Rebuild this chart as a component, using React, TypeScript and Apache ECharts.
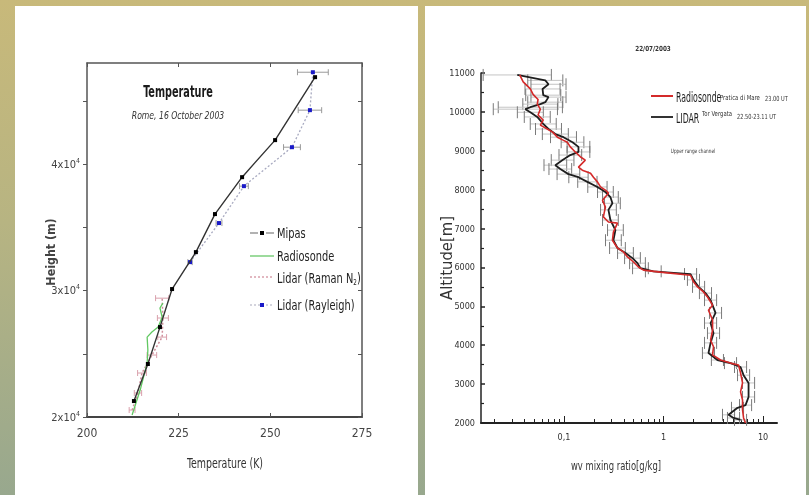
import React, { useEffect, useRef } from "react";
import * as echarts from "echarts";

// ---------- Left chart: Temperature profile, Rome 16 October 2003 ----------
const tempTicks = [200, 225, 250, 275];
const heightLabelValues = [20000, 30000, 40000];
const heightTickValues = [20000, 25000, 30000, 35000, 40000, 45000];

const mipasT = [212.8, 216.6, 219.9, 223.2, 229.7, 234.9, 242.3, 251.3, 262.2];
const mipasH = [21260, 24190, 27110, 30120, 33040, 36050, 38970, 41900, 46880];

const rayleighT = [228.1, 236.0, 242.8, 255.9, 260.8, 261.6];
const rayleighH = [32250, 35340, 38260, 41340, 44270, 47270];
const rayleighErr = [0.6, 0.8, 1.2, 2.3, 3.2, 4.2];

const ramanT = [212.3, 213.9, 215.0, 217.7, 220.5, 220.7, 220.5];
const ramanH = [20550, 21900, 23480, 24900, 26320, 27830, 29400];
const ramanErr = [0.8, 1.0, 1.2, 1.3, 1.2, 1.5, 1.8];

const sondeT = [212.3, 214.5, 216.4, 216.6, 216.4, 217.7, 219.4, 220.5, 219.9, 220.7];
const sondeH = [20160, 22130, 24270, 25300, 26320, 26720, 27110, 27900, 28620, 29010];

// ---------- Right chart: water vapour mixing ratio, 22/07/2003 ----------
const wvLabelValues = [0.1, 1, 10];
const wvTickValues = [0.02, 0.03, 0.04, 0.05, 0.06, 0.07, 0.08, 0.09, 0.2, 0.3, 0.4, 0.5, 0.6, 0.7, 0.8, 0.9, 2, 3, 4, 5, 6, 7, 8, 9];
const wvMin = 0.0147;
const wvMax = 13.8;

// [altitude m, mixing ratio g/kg]
const radiosondeProfile = [
  [10950, 0.036], [10770, 0.039], [10590, 0.046], [10450, 0.049], [10320, 0.055], [10200, 0.054],
  [10070, 0.058], [9920, 0.055], [9790, 0.062], [9660, 0.058], [9560, 0.068], [9480, 0.077],
  [9350, 0.086], [9280, 0.097], [9220, 0.108], [9100, 0.116], [8970, 0.13], [8840, 0.147],
  [8760, 0.164], [8580, 0.14], [8500, 0.153], [8420, 0.185], [8320, 0.198], [8200, 0.217],
  [8070, 0.233], [7990, 0.261], [7910, 0.28], [7730, 0.244], [7550, 0.261], [7300, 0.249],
  [7170, 0.28], [7140, 0.345], [6910, 0.314], [6700, 0.307], [6500, 0.345], [6400, 0.396],
  [6270, 0.435], [6140, 0.5], [6010, 0.56], [5930, 0.63], [5880, 0.93], [5800, 1.87],
  [5630, 2.0], [5500, 2.2], [5370, 2.52], [5240, 2.77], [5030, 3.11], [4900, 2.83],
  [4650, 3.11], [4390, 3.11], [4130, 2.97], [3960, 3.18], [3750, 3.11], [3620, 3.74],
  [3540, 4.71], [3490, 5.67], [3290, 5.94], [3030, 6.22], [2800, 5.94], [2590, 6.22],
  [2340, 6.22], [2130, 6.37], [2000, 6.67],
];

// [altitude m, mixing ratio g/kg, error factor]
const lidarProfile = [
  [10950, 0.034, 2.2], [10810, 0.065, 1.5], [10710, 0.07, 1.5], [10590, 0.061, 1.5], [10430, 0.062, 1.5],
  [10380, 0.07, 1.5], [10250, 0.065, 1.5], [10200, 0.058, 1.5], [10120, 0.046, 2.1], [10070, 0.041, 2.1],
  [9990, 0.046, 1.35], [9870, 0.054, 1.35], [9690, 0.062, 1.35], [9560, 0.07, 1.35], [9430, 0.082, 1.35],
  [9350, 0.099, 1.35], [9220, 0.122, 1.3], [9100, 0.14, 1.3], [8970, 0.14, 1.3], [8890, 0.116, 1.3],
  [8760, 0.097, 1.3], [8630, 0.082, 1.3], [8530, 0.092, 1.3], [8400, 0.111, 1.3], [8320, 0.14, 1.25],
  [8200, 0.172, 1.25], [8070, 0.217, 1.25], [7940, 0.261, 1.2], [7810, 0.293, 1.2], [7650, 0.307, 1.2],
  [7480, 0.28, 1.2], [7220, 0.293, 1.2], [6960, 0.329, 1.2], [6700, 0.314, 1.2], [6500, 0.345, 1.2],
  [6370, 0.415, 1.2], [6240, 0.488, 1.2], [6110, 0.548, 1.2], [5980, 0.587, 1.2], [5900, 0.79, 1.2],
  [5830, 1.87, 1.15], [5680, 2.0, 1.15], [5500, 2.25, 1.15], [5340, 2.64, 1.15], [5160, 2.97, 1.15],
  [4830, 3.33, 1.15], [4570, 2.97, 1.15], [4310, 3.18, 1.15], [4060, 2.97, 1.15], [3800, 2.83, 1.15],
  [3620, 3.48, 1.15], [3540, 4.71, 1.15], [3440, 5.94, 1.15], [3230, 6.37, 1.15], [3030, 7.15, 1.15],
  [2670, 7.15, 1.15], [2460, 6.67, 1.15], [2390, 5.54, 1.15], [2210, 4.5, 1.15], [2130, 5.05, 1.15],
  [2080, 5.94, 1.15],
];

const NARROW = "'Liberation Sans Narrow','DejaVu Sans Condensed','Liberation Sans',Arial,sans-serif";
const SANS = "'Liberation Sans',Arial,sans-serif";

const lg = (v: number) => Math.log10(v);

function errorBarRenderer(barColor: string, capColor: string, cap: number, width: number) {
  return (params: any, api: any) => {
    const y = api.value(2);
    const p1 = api.coord([api.value(0), y]);
    const p2 = api.coord([api.value(1), y]);
    const bar = { stroke: barColor, lineWidth: width, fill: null };
    const cp = { stroke: capColor, lineWidth: width, fill: null };
    return {
      type: "group",
      children: [
        { type: "line", shape: { x1: p1[0], y1: p1[1], x2: p2[0], y2: p2[1] }, style: bar },
        { type: "line", shape: { x1: p1[0], y1: p1[1] - cap, x2: p1[0], y2: p1[1] + cap }, style: cp },
        { type: "line", shape: { x1: p2[0], y1: p2[1] - cap, x2: p2[0], y2: p2[1] + cap }, style: cp },
      ],
    };
  };
}

function txt(text: string, x: number, y: number, o: any = {}) {
  const { rotation, scaleX, ...style } = o;
  return {
    type: "text",
    x,
    y,
    rotation: rotation || 0,
    scaleX: scaleX || 1,
    silent: true,
    z: 50,
    style: {
      text,
      fill: "#333",
      font: `12px ${NARROW}`,
      align: "center",
      verticalAlign: "middle",
      textAlign: "center",
      textVerticalAlign: "middle",
      ...style,
    },
  };
}

function seg(x1: number, y1: number, x2: number, y2: number, style: any) {
  return { type: "line", silent: true, z: 50, shape: { x1, y1, x2, y2 }, style: { fill: null, ...style } };
}

function buildOption(): any {
  const lmin = lg(wvMin);
  const lmax = lg(wvMax);
  const L = { align: "left", textAlign: "left" };

  const graphic: any[] = [
    // page background
    {
      type: "rect", z: -20, silent: true,
      shape: { x: 0, y: 0, width: 809, height: 495 },
      style: {
        fill: new echarts.graphic.LinearGradient(0, 0, 0, 1, [
          { offset: 0, color: "#c8b97a" },
          { offset: 0.45, color: "#b7b482" },
          { offset: 1, color: "#98a88e" },
        ]),
      },
    },
    { type: "rect", z: -19, silent: true, shape: { x: 15, y: 6, width: 403, height: 489 }, style: { fill: "#ffffff" } },
    { type: "rect", z: -19, silent: true, shape: { x: 425, y: 6, width: 381, height: 489 }, style: { fill: "#ffffff" } },

    // left chart texts
    txt("Temperature", 178, 92, { font: `bold 15px ${NARROW}`, fill: "#1a1a1a", scaleX: 0.72 }),
    txt("Rome, 16 October 2003", 178, 115, { font: `italic 11px ${NARROW}`, fill: "#333", scaleX: 0.78 }),
    txt("Height (m)", 50, 252, { font: `bold 13px ${NARROW}`, fill: "#444", rotation: Math.PI / 2, scaleX: 0.95 }),
    txt("Temperature (K)", 225, 463, { font: `14px ${NARROW}`, fill: "#333", scaleX: 0.75 }),

    // left legend
    seg(250, 233, 258, 233, { stroke: "#999", lineWidth: 1.5 }),
    seg(266, 233, 274, 233, { stroke: "#999", lineWidth: 1.5 }),
    { type: "rect", z: 51, silent: true, shape: { x: 260, y: 231, width: 4, height: 4 }, style: { fill: "#000" } },
    txt("Mipas", 277, 233, { ...L, font: `14px ${NARROW}`, fill: "#222", scaleX: 0.78 }),
    seg(250, 256, 274, 256, { stroke: "#7ccf7c", lineWidth: 1.5 }),
    txt("Radiosonde", 277, 256, { ...L, font: `14px ${NARROW}`, fill: "#222", scaleX: 0.78 }),
    seg(250, 277, 274, 277, { stroke: "#d9a0ac", lineWidth: 1.5, lineDash: [2, 2] }),
    {
      type: "text", x: 277, y: 278, silent: true, z: 50, scaleX: 0.78,
      style: {
        text: "{a|Lidar (Raman N}{s|2}{a|)}",
        align: "left", verticalAlign: "middle", textAlign: "left", textVerticalAlign: "middle",
        rich: {
          a: { font: `14px ${NARROW}`, fill: "#222", color: "#222" },
          s: { font: `8px ${NARROW}`, fill: "#222", color: "#222", padding: [8, 0, 0, 0] },
        },
      },
    },
    seg(250, 305, 274, 305, { stroke: "#aab", lineWidth: 1.2, lineDash: [2, 2] }),
    { type: "rect", z: 51, silent: true, shape: { x: 260, y: 303, width: 4, height: 4 }, style: { fill: "#1a1ac8" } },
    txt("Lidar (Rayleigh)", 277, 305, { ...L, font: `14px ${NARROW}`, fill: "#222", scaleX: 0.78 }),

    // right chart texts
    txt("22/07/2003", 653, 49, { font: `bold 7px ${NARROW}`, fill: "#333", scaleX: 0.9 }),
    txt("Altitude[m]", 447, 258, { font: `15px ${NARROW}`, fill: "#333", rotation: Math.PI / 2, scaleX: 1.1 }),
    txt("wv mixing ratio[g/kg]", 616, 465, { font: `13px ${NARROW}`, fill: "#333", scaleX: 0.72 }),
    seg(651, 96, 673, 96, { stroke: "#d42a2a", lineWidth: 2 }),
    txt("Radiosonde", 676, 97, { ...L, font: `14px ${NARROW}`, fill: "#222", scaleX: 0.62 }),
    txt("Pratica di Mare", 720, 98, { ...L, font: `7px ${NARROW}`, fill: "#333", scaleX: 0.85 }),
    txt("23.00 UT", 765, 98, { ...L, font: `7px ${NARROW}`, fill: "#333", scaleX: 0.8 }),
    seg(651, 117, 673, 117, { stroke: "#333", lineWidth: 2 }),
    txt("LIDAR", 676, 118, { ...L, font: `14px ${NARROW}`, fill: "#222", scaleX: 0.62 }),
    txt("Tor Vergata", 702, 114, { ...L, font: `7px ${NARROW}`, fill: "#333", scaleX: 0.85 }),
    txt("22.50-23.11 UT", 737, 116, { ...L, font: `7px ${NARROW}`, fill: "#333", scaleX: 0.8 }),
    txt("Upper range channel", 693, 151, { font: `6px ${NARROW}`, fill: "#333", scaleX: 0.78 }),
  ];

  const axisLineDark = { show: true, lineStyle: { color: "#555", width: 1.5 } };

  return {
    animation: false,
    backgroundColor: "transparent",
    graphic,
    grid: [
      { left: 87, top: 63, width: 275, height: 354, containLabel: false },
      { left: 481, top: 73, width: 296, height: 350, containLabel: false },
    ],
    xAxis: [
      {
        gridIndex: 0, type: "value", position: "bottom", min: 200, max: 275, interval: 25,
        axisLine: { show: true, onZero: false, lineStyle: { color: "#444", width: 2 } },
        axisTick: { show: true, inside: true, length: 4, lineStyle: { color: "#555" } },
        axisLabel: {
          color: "#444", fontSize: 12, fontFamily: NARROW, margin: 10,
          customValues: tempTicks,
        },
        splitLine: { show: false },
      },
      {
        gridIndex: 0, type: "value", position: "top", min: 200, max: 275, interval: 25,
        axisLine: { ...axisLineDark, onZero: false },
        axisTick: { show: true, inside: true, length: 4, lineStyle: { color: "#555" } },
        axisLabel: { show: false },
        splitLine: { show: false },
      },
      {
        gridIndex: 1, type: "value", position: "bottom", min: lmin, max: lmax,
        axisLine: { show: true, onZero: false, lineStyle: { color: "#222", width: 2 } },
        axisTick: { show: true, inside: true, length: 7, lineStyle: { color: "#222" }, customValues: wvLabelValues.map(lg) },
        axisLabel: {
          color: "#333", fontSize: 9, fontFamily: NARROW, margin: 9,
          customValues: wvLabelValues.map(lg),
          formatter: (v: number) => {
            const r = Math.round(Math.pow(10, v) * 1000) / 1000;
            return String(r).replace(".", ",");
          },
        },
        splitLine: { show: false },
      },
      {
        gridIndex: 1, type: "value", position: "bottom", min: lmin, max: lmax,
        axisLine: { show: false, onZero: false },
        axisTick: { show: true, inside: true, length: 4, lineStyle: { color: "#222" }, customValues: wvTickValues.map(lg) },
        axisLabel: { show: false },
        splitLine: { show: false },
      },
    ],
    yAxis: [
      {
        gridIndex: 0, type: "value", position: "left", min: 20000, max: 48000,
        axisLine: { ...axisLineDark, onZero: false },
        axisTick: { show: true, inside: false, length: 4, lineStyle: { color: "#555" }, customValues: heightTickValues },
        axisLabel: {
          customValues: heightLabelValues,
          margin: 7,
          formatter: (v: number) => `{m|${v / 10000}x10}{s|4}`,
          rich: {
            m: { fontSize: 11, fontFamily: NARROW, color: "#444" },
            s: { fontSize: 7, fontFamily: NARROW, color: "#444", padding: [0, 0, 7, 0] },
          },
        },
        splitLine: { show: false },
      },
      {
        gridIndex: 0, type: "value", position: "right", min: 20000, max: 48000,
        axisLine: { ...axisLineDark, onZero: false },
        axisTick: { show: true, inside: true, length: 4, lineStyle: { color: "#555" }, customValues: heightTickValues },
        axisLabel: { show: false },
        splitLine: { show: false },
      },
      {
        gridIndex: 1, type: "value", position: "left", min: 2000, max: 11000, interval: 1000,
        axisLine: { show: true, onZero: false, lineStyle: { color: "#222", width: 1.5 } },
        axisTick: { show: true, inside: true, length: 4, lineStyle: { color: "#222", width: 1.5 } },
        minorTick: { show: true, splitNumber: 2, length: 3, lineStyle: { color: "#222", width: 1.2 } },
        axisLabel: {
          color: "#333", fontSize: 9, fontFamily: NARROW, margin: 6,
          formatter: (v: number) => String(v),
        },
        splitLine: { show: false },
      },
    ],
    series: [
      // ----- left chart -----
      {
        name: "Lidar (Raman N2) error", type: "custom", xAxisIndex: 0, yAxisIndex: 0, z: 2,
        renderItem: errorBarRenderer("#d9a0ac", "#d9a0ac", 3, 1),
        encode: { x: [0, 1], y: 2 },
        data: ramanT.map((t, i) => [t - ramanErr[i], t + ramanErr[i], ramanH[i]]),
      },
      {
        name: "Lidar (Rayleigh) error", type: "custom", xAxisIndex: 0, yAxisIndex: 0, z: 2,
        renderItem: errorBarRenderer("#9a9a9a", "#9a9a9a", 3, 1),
        encode: { x: [0, 1], y: 2 },
        data: rayleighT.map((t, i) => [t - rayleighErr[i], t + rayleighErr[i], rayleighH[i]]),
      },
      {
        name: "Lidar (Raman N2)", type: "line", xAxisIndex: 0, yAxisIndex: 0, z: 3,
        showSymbol: false, symbol: "none",
        lineStyle: { color: "#cf8f9c", width: 1.5, type: [2, 2] },
        data: ramanT.map((t, i) => [t, ramanH[i]]),
      },
      {
        name: "Radiosonde", type: "line", xAxisIndex: 0, yAxisIndex: 0, z: 4,
        showSymbol: false, symbol: "none",
        lineStyle: { color: "#62c862", width: 1.3 },
        data: sondeT.map((t, i) => [t, sondeH[i]]),
      },
      {
        name: "Lidar (Rayleigh)", type: "line", xAxisIndex: 0, yAxisIndex: 0, z: 5,
        symbol: "rect", symbolSize: 4,
        itemStyle: { color: "#1a1ac8" },
        lineStyle: { color: "#a8aac0", width: 1.3, type: [2, 2] },
        data: rayleighT.map((t, i) => [t, rayleighH[i]]),
      },
      {
        name: "Mipas", type: "line", xAxisIndex: 0, yAxisIndex: 0, z: 6,
        symbol: "rect", symbolSize: 4,
        itemStyle: { color: "#000" },
        lineStyle: { color: "#333", width: 1.4 },
        data: mipasT.map((t, i) => [t, mipasH[i]]),
      },
      // ----- right chart -----
      {
        name: "LIDAR error", type: "custom", xAxisIndex: 2, yAxisIndex: 2, z: 2,
        renderItem: errorBarRenderer("#c4c4c4", "#7a7a7a", 6, 1),
        encode: { x: [0, 1], y: 2 },
        data: lidarProfile.map(([a, v, f]) => [Math.max(lmin, lg(v / f)), Math.min(lmax, lg(v * f)), a]),
      },
      {
        name: "LIDAR", type: "line", xAxisIndex: 2, yAxisIndex: 2, z: 3,
        showSymbol: false, symbol: "none",
        lineStyle: { color: "#1e1e1e", width: 1.8 },
        data: lidarProfile.map(([a, v]) => [lg(v), a]),
      },
      {
        name: "Radiosonde Pratica di Mare", type: "line", xAxisIndex: 2, yAxisIndex: 2, z: 4,
        showSymbol: false, symbol: "none",
        lineStyle: { color: "#d42a2a", width: 1.6 },
        data: radiosondeProfile.map(([a, v]) => [lg(v), a]),
      },
    ],
  };
}

export default function App() {
  const ref = useRef<HTMLDivElement>(null);
  useEffect(() => {
    if (!ref.current) return;
    const chart = echarts.init(ref.current, null, { renderer: "svg", width: 809, height: 495 });
    chart.setOption(buildOption());
    return () => chart.dispose();
  }, []);
  return (
    <div
      ref={ref}
      style={{ position: "fixed", left: 0, top: 0, width: 809, height: 495, fontFamily: SANS }}
    />
  );
}
